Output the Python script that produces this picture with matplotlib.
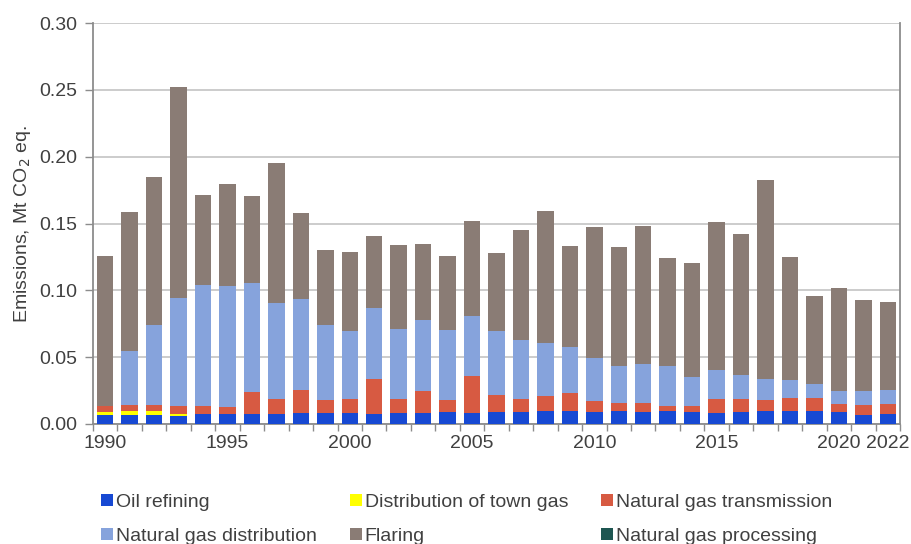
import numpy as np
import matplotlib.pyplot as plt

plt.rcParams['font.family'] = ['Liberation Sans', 'DejaVu Sans']

years = list(range(1990, 2023))
oil_refining = [0.0070, 0.0070, 0.0070, 0.0062, 0.0077, 0.0075, 0.0077, 0.0073, 0.0085, 0.0085,
                0.0082, 0.0077, 0.0085, 0.0085, 0.0088, 0.0082, 0.0092, 0.0092, 0.0100, 0.0095,
                0.0092, 0.0097, 0.0092, 0.0095, 0.0090, 0.0082, 0.0092, 0.0097, 0.0097, 0.0097,
                0.0090, 0.0065, 0.0077]
town_gas = [0.0022, 0.0025, 0.0025, 0.0015, 0.0, 0.0, 0.0, 0.0, 0.0, 0.0,
            0.0, 0.0, 0.0, 0.0, 0.0, 0.0, 0.0, 0.0, 0.0, 0.0,
            0.0, 0.0, 0.0, 0.0, 0.0, 0.0, 0.0, 0.0, 0.0, 0.0,
            0.0, 0.0, 0.0]
ng_transmission = [0.0043, 0.0050, 0.0045, 0.0055, 0.0056, 0.0055, 0.0165, 0.0114, 0.0170, 0.0097,
                   0.0103, 0.0258, 0.0100, 0.0162, 0.0094, 0.0280, 0.0123, 0.0093, 0.0112, 0.0135,
                   0.0083, 0.0058, 0.0065, 0.0042, 0.0047, 0.0103, 0.0098, 0.0083, 0.0100, 0.0098,
                   0.0057, 0.0075, 0.0075]
ng_distribution = [0.0, 0.0400, 0.0600, 0.0807, 0.0910, 0.0904, 0.0812, 0.0720, 0.0680, 0.0560,
                   0.0512, 0.0532, 0.0527, 0.0530, 0.0518, 0.0445, 0.0480, 0.0442, 0.0395, 0.0347,
                   0.0322, 0.0277, 0.0290, 0.0295, 0.0218, 0.0222, 0.0175, 0.0160, 0.0130, 0.0102,
                   0.0100, 0.0107, 0.0103]
flaring = [0.1120, 0.1040, 0.1110, 0.1580, 0.0667, 0.0758, 0.0655, 0.1043, 0.0645, 0.0560,
           0.0593, 0.0537, 0.0625, 0.0570, 0.0554, 0.0713, 0.0587, 0.0822, 0.0985, 0.0757,
           0.0977, 0.0892, 0.1033, 0.0810, 0.0850, 0.1102, 0.1054, 0.1484, 0.0920, 0.0657,
           0.0770, 0.0683, 0.0657]
ng_processing = [0.0] * 33

series = [
    ("Oil refining", oil_refining, "#1749d3"),
    ("Distribution of town gas", town_gas, "#ffff00"),
    ("Natural gas transmission", ng_transmission, "#d75a42"),
    ("Natural gas distribution", ng_distribution, "#86a3dc"),
    ("Flaring", flaring, "#8a7c75"),
    ("Natural gas processing", ng_processing, "#1e5651"),
]

FS = 14
TXT = "#404040"

fig = plt.figure(figsize=(9.11, 5.44), dpi=100)
ax = fig.add_axes([93 / 911, 1 - 424 / 544, 807 / 911, 401 / 544])

x = np.arange(len(years))
bottom = np.zeros(len(years))
handles = {}
for name, vals, color in series:
    vals = np.array(vals)
    b = ax.bar(x, vals, 0.67, bottom=bottom, color=color, edgecolor="none",
               label=name, zorder=3)
    handles[name] = b
    bottom += vals

ax.set_ylim(0, 0.30)
ax.set_xlim(-0.5, len(years) - 0.5)
yt = np.arange(0, 0.301, 0.05)
ax.set_yticks(yt)
ax.set_yticklabels([f"{v:.2f}" for v in yt])
ax.yaxis.grid(True, color="#c8c8c8", linewidth=1.3, zorder=0)
ax.set_axisbelow(True)

lab_years = [1990, 1995, 2000, 2005, 2010, 2015, 2020, 2022]
ax.set_xticks([years.index(y) for y in lab_years])
ax.set_xticklabels([str(y) for y in lab_years])
ax.set_xticks(np.arange(-0.5, len(years), 1), minor=True)
ax.tick_params(axis="x", which="major", length=0, labelsize=FS, colors=TXT, pad=8)
ax.tick_params(axis="x", which="minor", length=5, color="#8c8c8c", width=1)
ax.tick_params(axis="y", length=6, color="#8c8c8c", width=1, labelsize=FS,
               labelcolor=TXT, pad=5)

for s in ["left", "right", "bottom"]:
    ax.spines[s].set_color("#8c8c8c")
    ax.spines[s].set_linewidth(1.3)
ax.spines["top"].set_visible(False)

ax.set_ylabel("Emissions, Mt CO$_2$ eq.", fontsize=FS, color=TXT, labelpad=5)

order = ["Oil refining", "Natural gas distribution", "Distribution of town gas",
         "Flaring", "Natural gas transmission", "Natural gas processing"]
fig.legend([handles[n] for n in order], order, loc="upper left",
           bbox_to_anchor=(101 / 911, 1 - 494 / 544), ncol=3, frameon=False,
           fontsize=FS, borderpad=0, borderaxespad=0,
           handlelength=0.62, handleheight=0.6, handletextpad=0.15,
           columnspacing=1.7, labelspacing=0.85, labelcolor=TXT)

fig.savefig("out.png", dpi=100)
